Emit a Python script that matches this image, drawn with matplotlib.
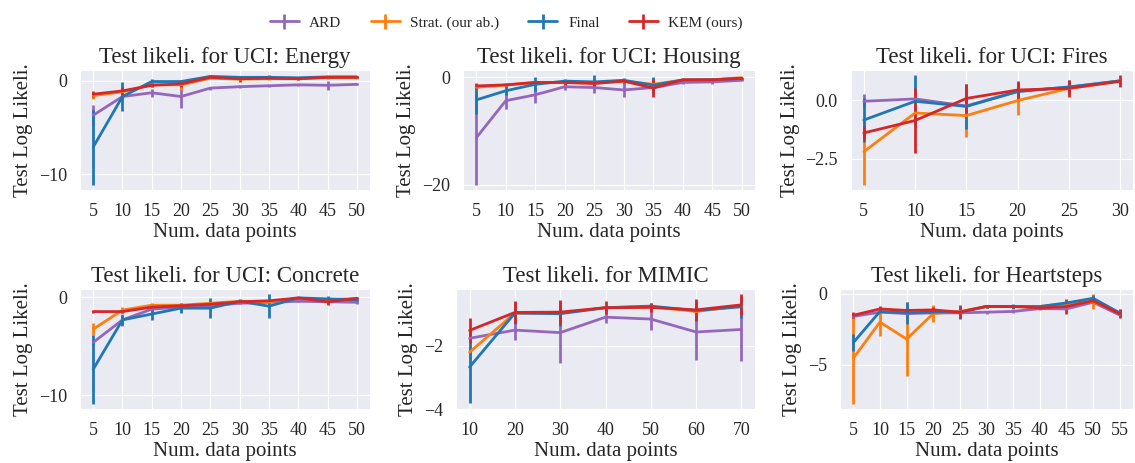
import matplotlib
matplotlib.use("Agg")
import matplotlib.pyplot as plt
import seaborn as sns
import numpy as np

sns.set_style("darkgrid")
plt.rcParams['font.family'] = ['Liberation Serif', 'DejaVu Serif']
plt.rcParams['axes.unicode_minus'] = True

methods = ["ARD", "Strat. (our ab.)", "Final", "KEM (ours)"]
colors = ["#9467bd", "#ff7f0e", "#1f77b4", "#d62728"]

# ---- UCI: Energy ----
energy_x = [5, 10, 15, 20, 25, 30, 35, 40, 45, 50]
energy_ard = [-3.7, -1.7, -1.3, -1.7, -0.8, -0.65, -0.55, -0.45, -0.5, -0.4]
energy_ard_err = [1.1, 0.3, 0.4, 1.2, 0.15, 0.15, 0.1, 0.1, 0.5, 0.1]
energy_strat = [-1.6, -1.2, -0.45, -0.45, 0.25, 0.15, 0.2, 0.2, 0.3, 0.3]
energy_strat_err = [0.4, 0.3, 0.2, 0.5, 0.1, 0.1, 0.1, 0.1, 0.1, 0.1]
energy_final = [-7.1, -1.7, -0.1, -0.1, 0.45, 0.35, 0.35, 0.3, 0.4, 0.4]
energy_final_err = [4.0, 1.5, 0.3, 0.2, 0.1, 0.15, 0.2, 0.1, 0.1, 0.1]
energy_kem = [-1.45, -1.1, -0.5, -0.35, 0.35, 0.2, 0.25, 0.2, 0.35, 0.35]
energy_kem_err = [0.3, 0.4, 0.15, 0.3, 0.1, 0.3, 0.1, 0.1, 0.1, 0.1]

# ---- UCI: Housing ----
housing_x = [5, 10, 15, 20, 25, 30, 35, 40, 45, 50]
housing_ard = [-11.3, -4.4, -3.3, -1.8, -1.95, -2.4, -1.95, -1.0, -0.9, -0.6]
housing_ard_err = [8.7, 1.6, 1.5, 0.6, 1.0, 1.4, 0.5, 0.3, 0.4, 0.2]
housing_strat = [-1.9, -1.5, -1.0, -1.0, -1.15, -0.75, -1.35, -0.55, -0.5, -0.1]
housing_strat_err = [0.4, 0.3, 0.3, 0.3, 0.3, 0.3, 0.5, 0.2, 0.2, 0.1]
housing_final = [-4.25, -2.55, -1.35, -0.75, -0.9, -0.6, -1.5, -0.55, -0.5, -0.25]
housing_final_err = [2.6, 0.8, 1.3, 0.3, 1.2, 0.4, 1.5, 0.2, 0.2, 0.1]
housing_kem = [-1.65, -1.45, -1.0, -1.0, -1.2, -0.75, -2.05, -0.5, -0.5, -0.25]
housing_kem_err = [0.5, 0.3, 0.3, 0.5, 0.6, 0.4, 1.7, 0.2, 0.2, 0.1]

# ---- UCI: Fires ----
fires_x = [5, 10, 15, 20, 25, 30]
fires_ard = [-0.05, 0.05, -0.25, 0.38, 0.55, 0.82]
fires_ard_err = [0.3, 0.1, 0.1, 0.1, 0.1, 0.1]
fires_strat = [-2.2, -0.55, -0.66, -0.02, 0.5, 0.82]
fires_strat_err = [1.4, 0.1, 0.9, 0.6, 0.1, 0.1]
fires_final = [-0.85, -0.05, -0.27, 0.36, 0.56, 0.82]
fires_final_err = [0.95, 1.1, 0.95, 0.4, 0.3, 0.1]
fires_kem = [-1.4, -0.87, 0.07, 0.43, 0.5, 0.8]
fires_kem_err = [0.3, 1.4, 0.6, 0.4, 0.35, 0.25]

# ---- UCI: Concrete ----
concrete_x = [5, 10, 15, 20, 25, 30, 35, 40, 45, 50]
concrete_ard = [-4.6, -2.3, -1.2, -1.0, -0.85, -0.6, -0.5, -0.4, -0.45, -0.5]
concrete_ard_err = [0.3, 0.6, 0.2, 0.2, 0.2, 0.1, 0.1, 0.1, 0.1, 0.2]
concrete_strat = [-3.25, -1.3, -0.8, -0.8, -0.6, -0.4, -0.45, -0.1, -0.25, -0.1]
concrete_strat_err = [0.6, 0.3, 0.2, 0.2, 0.2, 0.1, 0.1, 0.1, 0.1, 0.1]
concrete_final = [-7.35, -2.3, -1.7, -1.1, -1.1, -0.4, -0.9, -0.05, -0.15, -0.25]
concrete_final_err = [3.5, 0.5, 0.6, 0.5, 1.0, 0.2, 1.2, 0.1, 0.3, 0.1]
concrete_kem = [-1.45, -1.45, -1.0, -0.85, -0.7, -0.45, -0.35, -0.05, -0.45, -0.1]
concrete_kem_err = [0.1, 0.1, 0.1, 0.1, 0.1, 0.1, 0.1, 0.1, 0.35, 0.1]

# ---- MIMIC ----
mimic_x = [10, 20, 30, 40, 50, 60, 70]
mimic_ard = [-1.76, -1.5, -1.58, -1.09, -1.15, -1.56, -1.48]
mimic_ard_err = [0.1, 0.3, 0.95, 0.2, 0.35, 0.88, 1.0]
mimic_strat = [-2.2, -0.96, -0.96, -0.79, -0.76, -0.91, -0.73]
mimic_strat_err = [0.2, 0.1, 0.1, 0.1, 0.1, 0.1, 0.1]
mimic_final = [-2.67, -0.96, -0.98, -0.79, -0.74, -0.88, -0.76]
mimic_final_err = [1.15, 0.35, 0.4, 0.1, 0.1, 0.3, 0.35]
mimic_kem = [-1.51, -0.94, -0.93, -0.79, -0.78, -0.86, -0.7]
mimic_kem_err = [0.4, 0.35, 0.38, 0.2, 0.15, 0.35, 0.33]

# ---- Heartsteps ----
heart_x = [5, 10, 15, 20, 25, 30, 35, 40, 45, 50, 55]
heart_ard = [-1.6, -1.3, -1.4, -1.35, -1.35, -1.3, -1.25, -1.05, -1.07, -0.6, -1.5]
heart_ard_err = [0.1, 0.1, 0.1, 0.1, 0.1, 0.1, 0.1, 0.1, 0.1, 0.1, 0.1]
heart_strat = [-4.55, -2.0, -3.2, -1.4, -1.25, -0.9, -0.9, -0.9, -0.7, -0.55, -1.35]
heart_strat_err = [3.2, 1.0, 2.6, 0.6, 0.1, 0.1, 0.1, 0.1, 0.1, 0.5, 0.3]
heart_final = [-3.45, -1.25, -1.35, -1.3, -1.3, -0.9, -0.9, -0.9, -0.65, -0.32, -1.35]
heart_final_err = [0.6, 0.1, 0.8, 0.1, 0.5, 0.1, 0.15, 0.1, 0.1, 0.2, 0.1]
heart_kem = [-1.52, -1.07, -1.18, -1.14, -1.3, -0.89, -0.9, -1.0, -0.9, -0.5, -1.41]
heart_kem_err = [0.2, 0.2, 0.1, 0.2, 0.4, 0.1, 0.1, 0.1, 0.5, 0.1, 0.3]

panels = [
    ("Test likeli. for UCI: Energy", energy_x,
     [(energy_ard, energy_ard_err), (energy_strat, energy_strat_err),
      (energy_final, energy_final_err), (energy_kem, energy_kem_err)], [-10, 0], None),
    ("Test likeli. for UCI: Housing", housing_x,
     [(housing_ard, housing_ard_err), (housing_strat, housing_strat_err),
      (housing_final, housing_final_err), (housing_kem, housing_kem_err)], [-20, 0], None),
    ("Test likeli. for UCI: Fires", fires_x,
     [(fires_ard, fires_ard_err), (fires_strat, fires_strat_err),
      (fires_final, fires_final_err), (fires_kem, fires_kem_err)], [-2.5, 0.0], "%.1f"),
    ("Test likeli. for UCI: Concrete", concrete_x,
     [(concrete_ard, concrete_ard_err), (concrete_strat, concrete_strat_err),
      (concrete_final, concrete_final_err), (concrete_kem, concrete_kem_err)], [-10, 0], None),
    ("Test likeli. for MIMIC", mimic_x,
     [(mimic_ard, mimic_ard_err), (mimic_strat, mimic_strat_err),
      (mimic_final, mimic_final_err), (mimic_kem, mimic_kem_err)], [-4, -2], None),
    ("Test likeli. for Heartsteps", heart_x,
     [(heart_ard, heart_ard_err), (heart_strat, heart_strat_err),
      (heart_final, heart_final_err), (heart_kem, heart_kem_err)], [-5, 0], None),
]

W, H = 1135, 463
fig = plt.figure(figsize=(W / 100, H / 100), dpi=100)

# axes boxes in pixels: left, right, top, bottom
boxes = [
    (80, 370, 70, 190), (463, 755, 70, 190), (851, 1133, 70, 190),
    (80, 370, 289, 409), (456, 755, 289, 409), (840, 1133, 289, 409),
]

handles = []
for i, ((title, xs, series, yt, fmt), (l, r, t, b)) in enumerate(zip(panels, boxes)):
    ax = fig.add_axes([l / W, 1 - b / H, (r - l) / W, (b - t) / H])
    for (vals, errs), c, name in zip(series, colors, methods):
        h = ax.errorbar(xs, vals, yerr=errs, color=c, lw=2.0, elinewidth=2.0,
                        capsize=0, label=name)
        if i == 0:
            handles.append(h)
    ax.set_title(title, fontsize=16.5, pad=5)
    ax.set_xlabel("Num. data points", fontsize=15, labelpad=2)
    ax.set_ylabel("Test Log Likeli.", fontsize=15, labelpad=4)
    ax.set_xticks(xs)
    ax.set_yticks(yt)
    if fmt:
        ax.set_yticklabels([("%.1f" % v).replace("-", "\u2212") for v in yt])
    ax.tick_params(axis="both", labelsize=13, pad=6)

fig.legend(handles, methods, loc="upper center", ncol=4, frameon=False,
           fontsize=11, bbox_to_anchor=(0.446, 0.995), columnspacing=1.9,
           handlelength=1.9, handletextpad=0.7)

fig.savefig("out.png", dpi=100)
